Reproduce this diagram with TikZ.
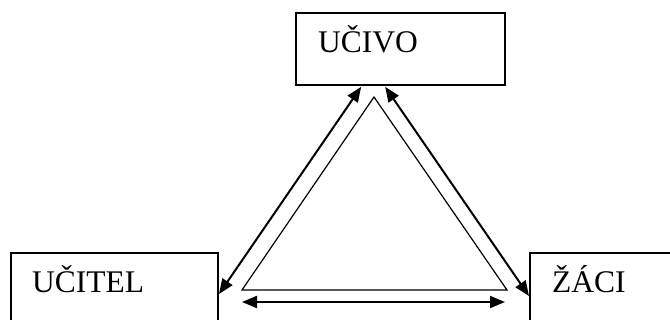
\documentclass[tikz,border=0pt]{standalone}
\usepackage{fontspec}
\setmainfont{Liberation Serif}
\usetikzlibrary{arrows.meta,calc}
\begin{document}
\begin{tikzpicture}[x=1pt,y=-1pt,
  box/.style={draw,line width=1.7pt,minimum width=#1,minimum height=88pt,inner sep=0pt,outer sep=0pt},
  lbl/.style={anchor=base west,inner sep=0pt,font=\fontsize{31.5}{31.5}\selectfont},
  conn/.style={line width=2pt,{Triangle[length=15pt,width=12pt]}-{Triangle[length=15pt,width=12pt]}},
  thin/.style={line width=1.2pt}]
\useasboundingbox (0,0) rectangle (670,320);
\clip (0,0) rectangle (670,320);
\node[draw,line width=1.7pt,minimum width=209pt,minimum height=72pt,inner sep=0pt] (ucivo) at (400.5,49) {};
\node[box=207pt] (ucitel) at (114.5,297) {};
\node[box=170pt] (zaci) at (615,297) {};
\node[lbl] (tucivo) at (318,53) {UČIVO};
\node[lbl] (tucitel) at (32,293) {UČITEL};
\node[lbl] (tzaci) at (552,293) {ŽÁCI};
\coordinate (uL) at ($(ucivo.south west)+(66,1)$);
\coordinate (uR) at ($(ucivo.south west)+(90,1)$);
\coordinate (tL) at ($(ucitel.east |- 0,294)+(1,0)$);
\coordinate (zL) at ($(zaci.west |- 0,296)+(-1,0)$);
\coordinate (bL) at (242,302);
\coordinate (bR) at (505,302);
\draw[conn] (uL) -- (tL);
\draw[conn] (uR) -- (zL);
\draw[conn] (bL) -- (bR);
\coordinate (a) at (374,97);
\coordinate (b) at (242,290);
\coordinate (c) at (507,290);
\draw[thin] (a) -- (b) -- (c) -- cycle;
\end{tikzpicture}
\end{document}
